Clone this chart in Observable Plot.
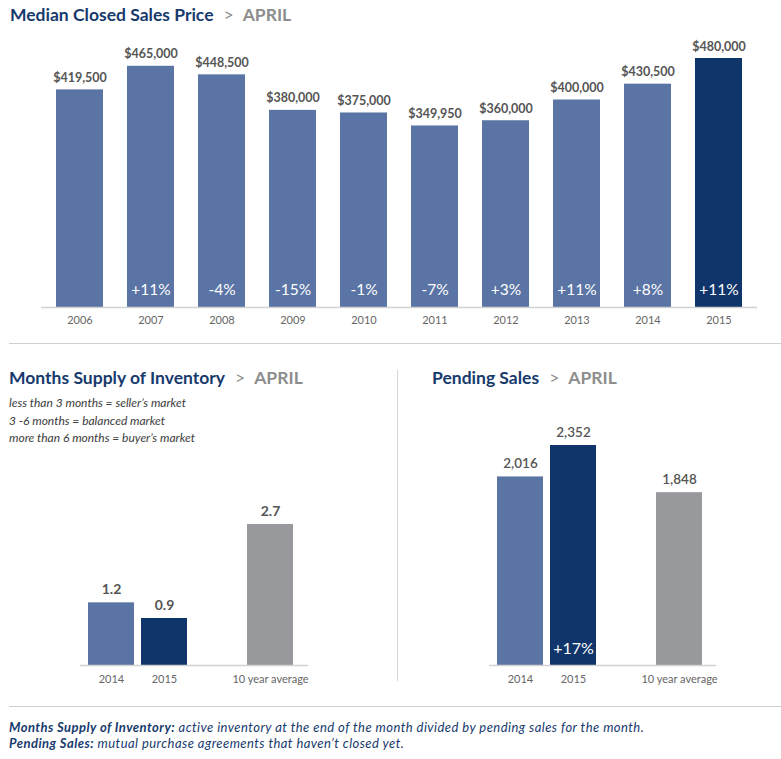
<!DOCTYPE html>
<html>
<head>
<meta charset="utf-8">
<script src="https://cdn.jsdelivr.net/npm/d3@7"></script>
<script src="https://cdn.jsdelivr.net/npm/@observablehq/plot@0.6"></script>
<style>
  html, body { margin: 0; padding: 0; background: #fff; }
  #root { position: relative; width: 781px; height: 759px; overflow: hidden; font-family: Lato, "Open Sans", sans-serif; }
  .abs { position: absolute; }
  .title { font-size: 17.5px; font-weight: 700; color: #173a6d; white-space: nowrap; line-height: 20px; }
  .title .sep { color: #8d8d8d; font-weight: 400; margin: 0 9px 0 10px; }
  .title .month { color: #8d8d8d; font-weight: 700; }
  .notes { font-size: 12px; font-style: italic; color: #3c3c3c; line-height: 17.5px; white-space: nowrap; }
  .foot { font-size: 13px; letter-spacing: 0.45px; font-style: italic; color: #173a6d; line-height: 16px; white-space: nowrap; }
  .foot b { font-weight: 700; }
  .hline { height: 0; border-top: 1.5px solid #cfcfcf; }
  .vline { width: 0; border-left: 1.5px solid #d6d6d6; }
</style>
</head>
<body>
<div id="root">
  <div class="abs title" style="left:10px; top:5px;">Median Closed Sales Price<span class="sep">&gt;</span><span class="month">APRIL</span></div>
  <div id="top" class="abs" style="left:0; top:0;"></div>
  <div class="abs hline" style="left:9px; top:343px; width:772px;"></div>

  <div class="abs title" style="left:9px; top:368px;">Months Supply of Inventory<span class="sep">&gt;</span><span class="month">APRIL</span></div>
  <div class="abs notes" style="left:9px; top:394px;">less than 3 months = seller’s market<br>3 -6 months = balanced market<br>more than 6 months = buyer’s market</div>
  <div id="supply" class="abs" style="left:0; top:400px;"></div>

  <div class="abs vline" style="left:397px; top:370px; height:311px;"></div>

  <div class="abs title" style="left:432px; top:368px;">Pending Sales<span class="sep">&gt;</span><span class="month">APRIL</span></div>
  <div id="pending" class="abs" style="left:398px; top:400px;"></div>

  <div class="abs hline" style="left:9px; top:706px; width:772px;"></div>
  <div class="abs foot" style="left:9px; top:719px;"><b>Months Supply of Inventory:</b> active inventory at the end of the month divided by pending sales for the month.<br><b>Pending Sales:</b> mutual purchase agreements that haven’t closed yet.</div>
</div>
<script>
// ---- data ----
const years = ["2006", "2007", "2008", "2009", "2010", "2011", "2012", "2013", "2014", "2015"];
const medianPrice = [419500, 465000, 448500, 380000, 375000, 349950, 360000, 400000, 430500, 480000];
const priceChange = [null, "+11%", "-4%", "-15%", "-1%", "-7%", "+3%", "+11%", "+8%", "+11%"];

const compareCategories = ["2014", "2015", "10 year average"];
const supplyValues = [1.2, 0.9, 2.7];
const pendingValues = [2016, 2352, 1848];
const pendingChange = [null, "+17%", null];

// ---- styles ----
const BLUE = "#5a74a5";
const NAVY = "#10356a";
const GRAY = "#98999d";
const LABEL = "#555555";
const AXIS = "#666666";
const RULE = "#d2d2d2";
const FONT = "Lato, 'Open Sans', sans-serif";

// ---- top chart ----
const priceData = years.map((y, i) => ({year: y, value: medianPrice[i], change: priceChange[i]}));

const topPlot = Plot.plot({
  width: 781,
  height: 340,
  marginLeft: 41,
  marginRight: 24,
  marginTop: 58,
  marginBottom: 33,
  style: {fontFamily: FONT, background: "transparent", overflow: "visible"},
  x: {type: "band", domain: years, paddingInner: 0.34, paddingOuter: 0.17, axis: null},
  y: {domain: [0, 480000], axis: null},
  marks: [
    Plot.barY(priceData, {x: "year", y: "value", fill: d => d.year === "2015" ? NAVY : BLUE}),
    Plot.ruleY([0], {stroke: RULE, strokeWidth: 1.3}),
    Plot.axisX({tickSize: 0, tickPadding: 9, fontSize: 11, fill: AXIS, label: null}),
    Plot.text(priceData, {x: "year", y: "value", text: d => d3.format("$,")(d.value), dy: -12, fill: LABEL, fontSize: 12.5, fontWeight: "bold"}),
    Plot.text(priceData.filter(d => d.change), {x: "year", y: 0, text: "change", dy: -17, fill: "white", fontSize: 15.5})
  ]
});
document.getElementById("top").appendChild(topPlot);

// ---- comparison charts ----
const GAP = " ";
const compareDomain = ["2014", "2015", GAP, "10 year average"];
const compareFill = d => d.cat === "2014" ? BLUE : d.cat === "2015" ? NAVY : GRAY;

function comparePlot({data, width, marginLeft, marginRight, marginTop, max, fmt, labelSize, labelWeight}) {
  return Plot.plot({
    width,
    height: 300,
    marginLeft,
    marginRight,
    marginTop,
    marginBottom: 35,
    style: {fontFamily: FONT, background: "transparent", overflow: "visible"},
    x: {type: "band", domain: compareDomain, paddingInner: 0.13, paddingOuter: 0.2, align: 0.35, axis: null},
    y: {domain: [0, max], axis: null},
    marks: [
      Plot.barY(data, {x: "cat", y: "value", fill: compareFill}),
      Plot.ruleY([0], {stroke: RULE, strokeWidth: 1.3}),
      Plot.axisX({ticks: compareCategories, tickSize: 0, tickPadding: 10, fontSize: 11, fill: AXIS, label: null}),
      Plot.text(data, {x: "cat", y: "value", text: d => fmt(d.value), dy: -13, fill: LABEL, fontSize: labelSize, fontWeight: labelWeight}),
      Plot.text(data.filter(d => d.change), {x: "cat", y: 0, text: "change", dy: -17, fill: "white", fontSize: 16})
    ]
  });
}

const supplyData = compareCategories.map((c, i) => ({cat: c, value: supplyValues[i], change: null}));
document.getElementById("supply").appendChild(comparePlot({
  data: supplyData, width: 398, marginLeft: 80, marginRight: 90, marginTop: 124, max: 2.7,
  fmt: d3.format(".1f"), labelSize: 14, labelWeight: "bold"
}));

const pendingData = compareCategories.map((c, i) => ({cat: c, value: pendingValues[i], change: pendingChange[i]}));
document.getElementById("pending").appendChild(comparePlot({
  data: pendingData, width: 383, marginLeft: 91, marginRight: 65, marginTop: 45, max: 2352,
  fmt: d3.format(","), labelSize: 13.5, labelWeight: "600"
}));
</script>
</body>
</html>
